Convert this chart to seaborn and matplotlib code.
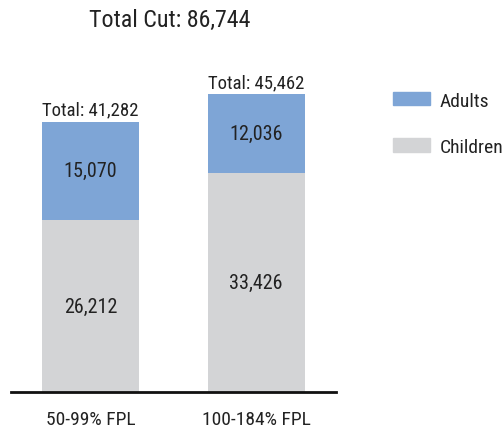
import matplotlib
matplotlib.use("Agg")
import matplotlib.pyplot as plt
import matplotlib.patches as mpatches
import seaborn as sns
import pandas as pd

# ── Data ───────────────────────────────────────────────────────────────────
groups = ["50-99% FPL", "100-184% FPL"]
adults = [15070, 12036]
children = [26212, 33426]
total_cut = 86744

BLUE = "#7ea5d6"
GREY = "#d3d4d6"
TEXT = "#222222"

sns.set_theme(style="white")
plt.rcParams["font.family"] = ["Roboto Condensed", "Liberation Sans Narrow",
                               "Liberation Sans", "DejaVu Sans"]

totals = [a + c for a, c in zip(adults, children)]
df = pd.DataFrame({"group": groups, "adults": adults,
                   "children": children, "total": totals})

fig = plt.figure(figsize=(5.03, 4.31), dpi=100)
ax = fig.add_axes([0.0219, 0.0882, 0.646, 0.76])

# stacked bars: total in blue, children drawn over it in grey
sns.barplot(data=df, x="group", y="total", color=BLUE, width=0.586,
            saturation=1, linewidth=0, ax=ax)
sns.barplot(data=df, x="group", y="children", color=GREY, width=0.586,
            saturation=1, linewidth=0, ax=ax)

for i, row in df.iterrows():
    ax.text(i, row["children"] / 2, f"{row['children']:,}", ha="center",
            va="center", fontsize=14.5, color=TEXT)
    ax.text(i, row["children"] + row["adults"] / 2, f"{row['adults']:,}",
            ha="center", va="center", fontsize=14.5, color=TEXT)
    ax.annotate(f"Total: {row['total']:,}", (i, row["total"]),
                xytext=(0, 2), textcoords="offset points", ha="center",
                va="bottom", fontsize=13.5, color=TEXT)

ax.set_xlim(-0.48, 1.483)
ax.set_ylim(0, 50000)
ax.set_xlabel("")
ax.set_ylabel("")
ax.set_yticks([])
ax.tick_params(axis="x", length=0, pad=13, labelsize=14, colors=TEXT)
for side in ["left", "right", "top"]:
    ax.spines[side].set_visible(False)
ax.spines["bottom"].set_color("#111111")
ax.spines["bottom"].set_linewidth(2)

fig.text(0.338, 0.953, f"Total Cut: {total_cut:,}", ha="center",
         va="center", fontsize=17.3, color=TEXT)

handles = [mpatches.Patch(color=BLUE, label="Adults"),
           mpatches.Patch(color=GREY, label="Children")]
fig.legend(handles=handles, loc="upper left", bbox_to_anchor=(0.781, 0.785),
           frameon=False, fontsize=14, handlelength=1.9, handleheight=0.67,
           labelspacing=1.45, handletextpad=0.5, labelcolor=TEXT,
           borderaxespad=0, borderpad=0)

fig.savefig("out.png", dpi=100)
